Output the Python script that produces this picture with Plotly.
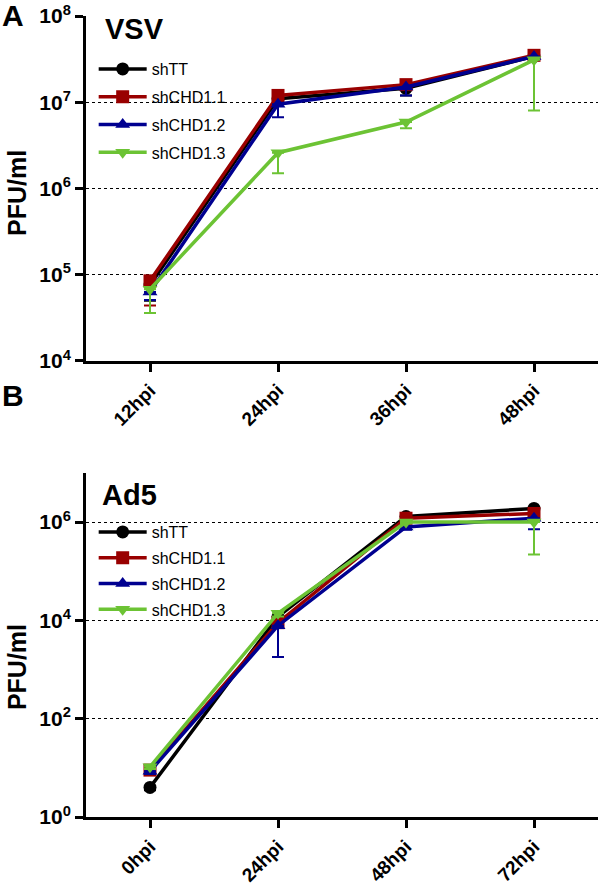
import plotly.graph_objects as go

# ---------------- data ----------------
series_names = ["shTT", "shCHD1.1", "shCHD1.2", "shCHD1.3"]
series_colors = ["#000000", "#990000", "#000090", "#6CC334"]
series_symbols = ["circle", "square", "triangle-up", "triangle-down"]

# Panel A: VSV
vsv_times = ["12hpi", "24hpi", "36hpi", "48hpi"]
vsv_shTT = [7.6e4, 1.1e7, 1.45e7, 3.4e7]
vsv_shCHD11 = [8.5e4, 1.2e7, 1.6e7, 3.5e7]
vsv_shCHD12 = [6.3e4, 9.5e6, 1.5e7, 3.4e7]
vsv_shCHD13 = [6.8e4, 2.6e6, 5.9e6, 3.1e7]
vsv_shTT_low = [5.0e4, 1.0e7, 1.2e7, 3.2e7]
vsv_shCHD11_low = [4.4e4, 1.1e7, 1.4e7, 3.3e7]
vsv_shCHD12_low = [5.1e4, 6.7e6, 1.2e7, 3.1e7]
vsv_shCHD13_low = [3.6e4, 1.5e6, 5.0e6, 8.0e6]

# Panel B: Ad5
ad5_times = ["0hpi", "24hpi", "48hpi", "72hpi"]
ad5_shTT = [4.0, 1.2e4, 1.3e6, 1.9e6]
ad5_shCHD11 = [9.0, 9.0e3, 1.2e6, 1.5e6]
ad5_shCHD12 = [8.5, 7.8e3, 8.0e5, 1.2e6]
ad5_shCHD13 = [10.5, 1.4e4, 1.0e6, 1.0e6]
ad5_shTT_low = [3.5, 1.0e4, 1.2e6, 1.8e6]
ad5_shCHD11_low = [8.0, 1.8e3, 1.0e6, 1.3e6]
ad5_shCHD12_low = [7.5, 1.8e3, 7.0e5, 7.2e5]
ad5_shCHD13_low = [9.5, 1.2e4, 9.5e5, 2.2e5]

vsv_exponents = [4, 5, 6, 7, 8]
ad5_exponents = [0, 2, 4, 6]

FONT = "Liberation Sans, Arial, sans-serif"

fig = go.Figure()

panels = [
    (vsv_times, [vsv_shTT, vsv_shCHD11, vsv_shCHD12, vsv_shCHD13],
     [vsv_shTT_low, vsv_shCHD11_low, vsv_shCHD12_low, vsv_shCHD13_low], "x", "y", "legend", "A"),
    (ad5_times, [ad5_shTT, ad5_shCHD11, ad5_shCHD12, ad5_shCHD13],
     [ad5_shTT_low, ad5_shCHD11_low, ad5_shCHD12_low, ad5_shCHD13_low], "x2", "y2", "legend2", "B"),
]

for times, vals, lows, xa, ya, leg, grp in panels:
    for name, color, sym, v, lo in zip(series_names, series_colors, series_symbols, vals, lows):
        fig.add_trace(go.Scatter(
            x=times, y=v, name=name, mode="lines+markers",
            line=dict(color=color, width=3.5),
            marker=dict(symbol=sym, size=13, color=color),
            error_y=dict(type="data", symmetric=False,
                         array=[0] * len(v),
                         arrayminus=[a - b for a, b in zip(v, lo)],
                         color=color, thickness=2, width=6),
            xaxis=xa, yaxis=ya, legend=leg, legendgroup=grp + name,
            showlegend=True,
        ))

axis_common = dict(showline=True, linecolor="black", linewidth=3,
                   ticks="outside", tickcolor="black", tickwidth=3, ticklen=8,
                   zeroline=False, automargin=False)

xtickfont = dict(size=19, weight="bold", family=FONT)
ytickfont = dict(size=21, weight="bold", family=FONT)

fig.update_layout(
    width=600, height=894,
    margin=dict(l=86, r=2, t=16, b=77),
    paper_bgcolor="white", plot_bgcolor="white",
    font=dict(family=FONT, color="black"),
    xaxis=dict(domain=[0, 1], anchor="y", type="category", range=[-0.5, 3.5],
               showgrid=False, tickangle=-45, tickfont=xtickfont, **axis_common),
    yaxis=dict(domain=[0.5693, 1.0], anchor="x", type="log", range=[4, 8],
               tickvals=[10 ** e for e in vsv_exponents],
               ticktext=["10<sup>%d</sup>" % e for e in vsv_exponents],
               showgrid=True, gridcolor="black", gridwidth=1.3, griddash="dot",
               tickfont=ytickfont, **axis_common),
    xaxis2=dict(domain=[0, 1], anchor="y2", type="category", range=[-0.5, 3.5],
                showgrid=False, tickangle=-45, tickfont=xtickfont, **axis_common),
    yaxis2=dict(domain=[0, 0.4295], anchor="x2", type="log", range=[0, 7],
                tickvals=[10 ** e for e in ad5_exponents],
                ticktext=["10<sup>%d</sup>" % e for e in ad5_exponents],
                showgrid=True, gridcolor="black", gridwidth=1.3, griddash="dot",
                tickfont=ytickfont, **axis_common),
    legend=dict(x=0.015, y=0.955, xanchor="left", yanchor="top",
                bgcolor="rgba(0,0,0,0)", font=dict(size=16, family=FONT),
                tracegroupgap=4, itemwidth=48),
    legend2=dict(x=0.015, y=0.377, xanchor="left", yanchor="top",
                 bgcolor="rgba(0,0,0,0)", font=dict(size=16, family=FONT),
                 tracegroupgap=2, itemwidth=48),
    annotations=[
        dict(text="VSV", xref="paper", yref="paper", x=0.033, y=0.9838,
             xanchor="left", yanchor="middle", showarrow=False,
             font=dict(size=29, weight="bold", family=FONT)),
        dict(text="Ad5", xref="paper", yref="paper", x=0.027, y=0.402,
             xanchor="left", yanchor="middle", showarrow=False,
             font=dict(size=29, weight="bold", family=FONT)),
        dict(text="A", xref="paper", yref="paper", x=-0.168, y=1.0012,
             xanchor="left", yanchor="middle", showarrow=False,
             font=dict(size=30, weight="bold", family=FONT)),
        dict(text="B", xref="paper", yref="paper", x=-0.168, y=0.5268,
             xanchor="left", yanchor="middle", showarrow=False,
             font=dict(size=30, weight="bold", family=FONT)),
        dict(text="PFU/ml", xref="paper", yref="paper", x=-0.135, y=0.779,
             xanchor="center", yanchor="middle", textangle=-90, showarrow=False,
             font=dict(size=25, weight="bold", family=FONT)),
        dict(text="PFU/ml", xref="paper", yref="paper", x=-0.135, y=0.187,
             xanchor="center", yanchor="middle", textangle=-90, showarrow=False,
             font=dict(size=25, weight="bold", family=FONT)),
    ],
)

fig.write_html("out.html", config={"displayModeBar": False},
               post_script="document.body.style.margin='0';")
